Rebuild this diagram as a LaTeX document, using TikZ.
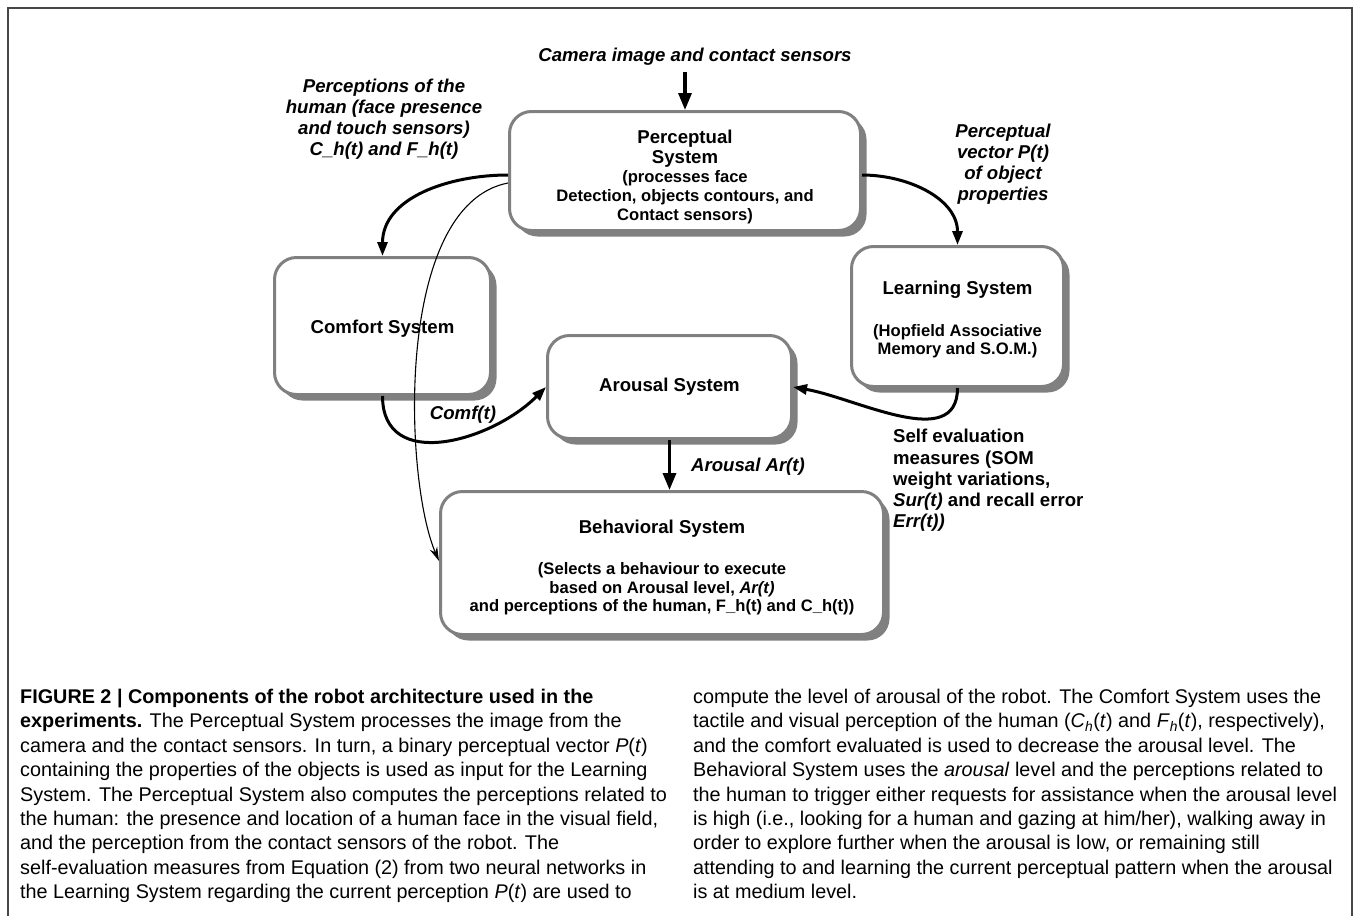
\documentclass[tikz,border=0pt]{standalone}
\usepackage{fontspec}
\setmainfont{Liberation Sans}
\usetikzlibrary{arrows.meta,shadows,calc}
\definecolor{boxgray}{RGB}{128,128,128}
\definecolor{framegray}{RGB}{70,70,70}
\newcommand\subtxt{\fontsize{16.6}{19}\selectfont}
\tikzset{
  >={Triangle[length=14pt,width=10pt]},
  sysbox/.style={draw=boxgray, line width=3pt, fill=white, rounded corners=22pt,
    align=center, inner sep=0pt,
    drop shadow={shadow xshift=6pt, shadow yshift=-6pt, fill=boxgray, opacity=1},
    font=\fontsize{18.6}{20}\selectfont\bfseries},
  flowlbl/.style={align=center, inner sep=0pt, font=\fontsize{18.6}{21}\selectfont\bfseries\itshape},
  flow/.style={->, line width=3pt},
  bigflow/.style={-{Triangle[length=17pt,width=13pt]}, line width=3.3pt},
  thinflow/.style={-{Stealth[length=14pt,width=8pt]}, line width=1.1pt},
  captext/.style={align=left, anchor=north west, inner sep=0pt,
    font=\fontsize{19.8}{24.4}\selectfont}
}
\begin{document}
\begin{tikzpicture}[x=1pt,y=1pt]
  \useasboundingbox (0,0) rectangle (1356,-916);
  \draw[framegray, line width=1.5pt] (8,-916) -- (8,-8) -- (1352,-8) -- (1352,-916);

  \node[sysbox, minimum width=351pt, minimum height=119pt] (percep) at (685,-171)
    {\mbox{}\\[6pt]Perceptual\\System\\[-1pt]\subtxt (processes face\\[-1pt]\subtxt Detection, objects contours, and\\[-1pt]\subtxt Contact sensors)};
  \node[sysbox, minimum width=216pt, minimum height=137pt] (comfort) at (382.5,-326) {\mbox{}\\[-2pt]Comfort System};
  \node[sysbox, minimum width=212pt, minimum height=140pt] (learning) at (957.5,-316.5)
    {\mbox{}\\[0pt]Learning System\\[22pt]\subtxt (Hopfield Associative\\[-2pt]\subtxt Memory and S.O.M.)};
  \node[sysbox, minimum width=244pt, minimum height=103pt] (arousal) at (669.5,-387) {Arousal System};
  \node[sysbox, minimum width=443pt, minimum height=143pt] (behav) at (662,-563)
    {\mbox{}\\[2pt]Behavioral System\\[21pt]\subtxt (Selects a behaviour to execute\\[-1pt]\subtxt based on Arousal level, \textit{Ar(t)}\\[-1.5pt]\subtxt and perceptions of the human, F\_h(t) and C\_h(t))};

  \node[flowlbl] (camera) at (695,-57) {Camera image and contact sensors};
  \node[flowlbl] (humanlbl) at (384,-119) {Perceptions of the\\human (face presence\\and touch sensors)\\C\_h(t) and F\_h(t)};
  \node[flowlbl] (veclbl) at (1003,-164) {Perceptual\\vector P(t)\\of object\\properties};
  \node[flowlbl] (comflbl) at (463,-415) {Comf(t)};
  \node[flowlbl] (arlbl) at (748,-467) {Arousal Ar(t)};
  \node[flowlbl, align=left, anchor=west, font=\fontsize{18.6}{21.3}\selectfont\bfseries] (selfeval) at (893,-480.5)
    {Self evaluation\\measures (SOM\\weight variations,\\\textit{Sur(t)} and recall error\\\textit{Err(t))}};

  \draw[bigflow] (camera.south -| percep.north) ++(0,-6) -- (percep.north);
  \draw[flow] ([yshift=-4pt]percep.west) to[out=180,in=90] (comfort.north);
  \draw[flow] ([yshift=-4pt]percep.east) to[out=0,in=90] (learning.north);
  \draw[thinflow] ([yshift=-12pt]percep.west) .. controls (394,-205) and (404,-480) .. ([yshift=2pt]behav.west);
  \draw[flow] (comfort.south) to[out=-90,in=-135,looseness=1.2] (arousal.west);
  \draw[flow] (learning.south) to[out=-90,in=-10] (arousal.east);
  \draw[bigflow] (arousal.south) -- (arousal.south |- behav.north);

  \node[captext] (capleft) at (20,-689)
    {\textbf{FIGURE 2 | Components of the robot architecture used in the}\\
     \textbf{experiments.} The Perceptual System processes the image from the\\
     camera and the contact sensors. In turn, a binary perceptual vector \textit{P}(\textit{t})\\
     containing the properties of the objects is used as input for the Learning\\
     System. The Perceptual System also computes the perceptions related to\\
     the human: the presence and location of a human face in the visual field,\\
     and the perception from the contact sensors of the robot. The\\
     self-evaluation measures from Equation (2) from two neural networks in\\
     the Learning System regarding the current perception \textit{P}(\textit{t}) are used to};
  \node[captext] (capright) at (693,-689)
    {compute the level of arousal of the robot. The Comfort System uses the\\
     tactile and visual perception of the human (\textit{C}\textsubscript{\textit{h}}(\textit{t}) and \textit{F}\textsubscript{\textit{h}}(\textit{t}), respectively),\\
     and the comfort evaluated is used to decrease the arousal level. The\\
     Behavioral System uses the \textit{arousal} level and the perceptions related to\\
     the human to trigger either requests for assistance when the arousal level\\
     is high (i.e., looking for a human and gazing at him/her), walking away in\\
     order to explore further when the arousal is low, or remaining still\\
     attending to and learning the current perceptual pattern when the arousal\\
     is at medium level.};
\end{tikzpicture}
\end{document}
